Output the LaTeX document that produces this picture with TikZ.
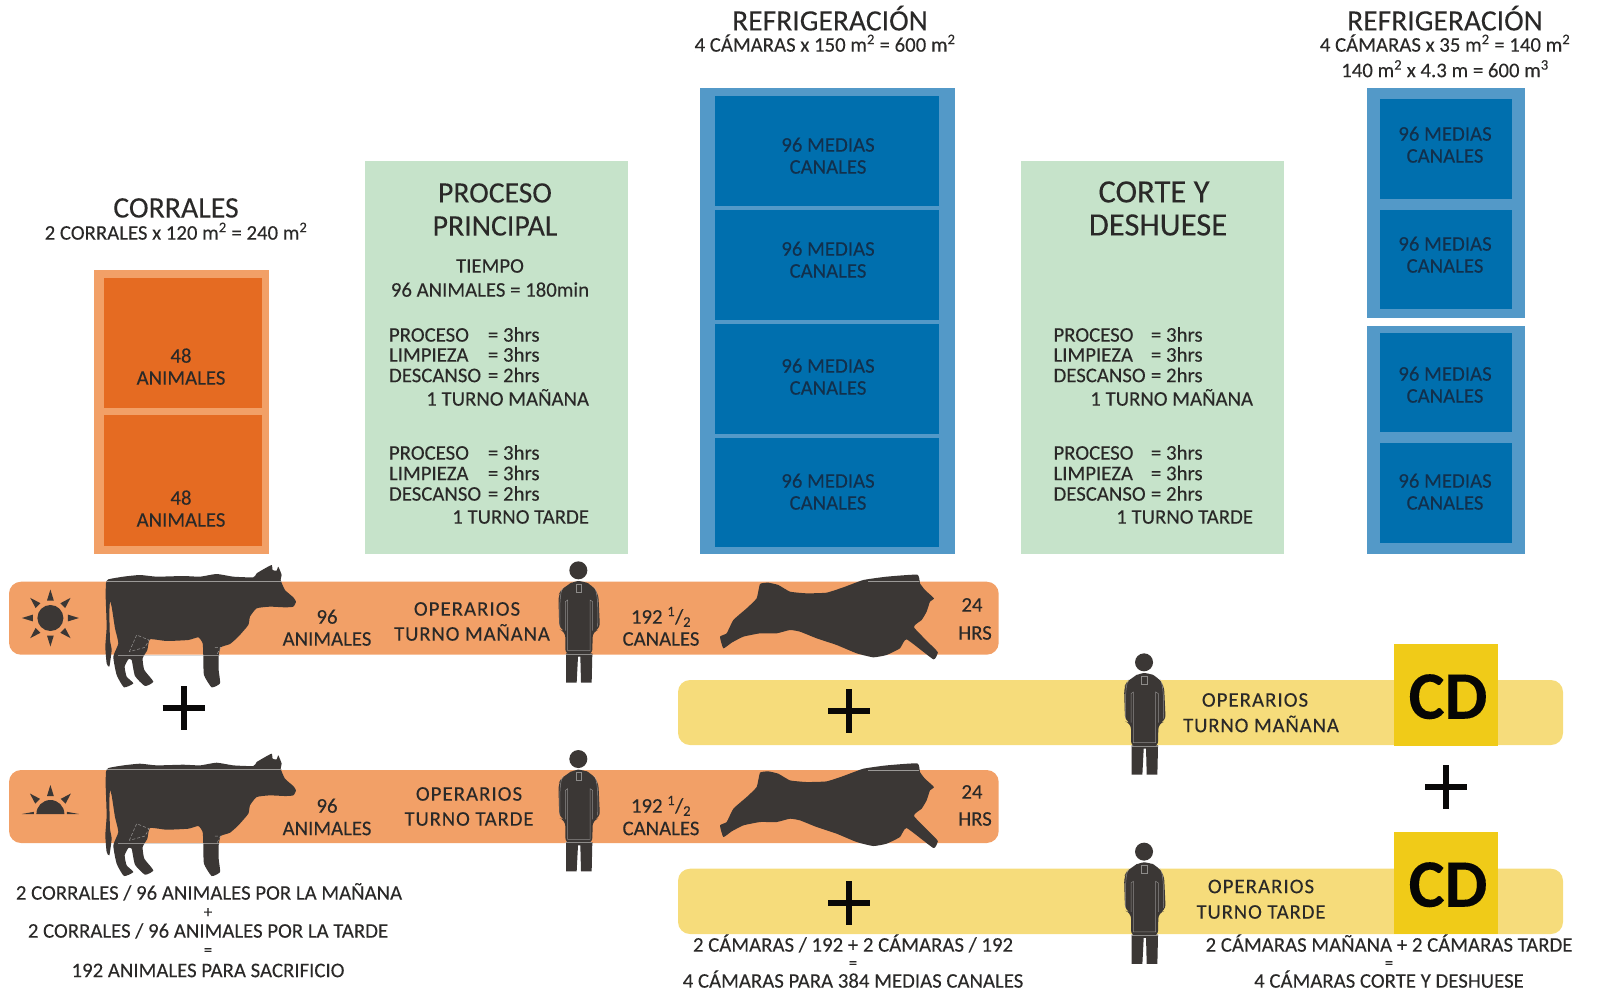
\documentclass[tikz,border=0pt]{standalone}
\usepackage{fontspec}
\setmainfont[FakeBold=0.12]{Carlito}
\definecolor{ink}{HTML}{2A2928}
\definecolor{sil}{HTML}{3B3735}
\definecolor{ornin}{HTML}{E56B22}
\definecolor{orout}{HTML}{F2A067}
\definecolor{grn}{HTML}{C6E3CA}
\definecolor{blout}{HTML}{5399C8}
\definecolor{blin}{HTML}{006FAE}
\definecolor{blink}{HTML}{12304C}
\definecolor{yel}{HTML}{F6DC7B}
\definecolor{cdy}{HTML}{F0CB18}
\newcounter{lb}
\newcommand\lab[5][]{\stepcounter{lb}\node[txt,#1,font=\fontsize{#4}{#4}\selectfont] (lb\arabic{lb}) at (#2,{#3+.32*#4}) {#5};}
\newcommand\sqm{m\textsuperscript{2}}
\newcommand\half{192 \textsuperscript{1}/\textsubscript{2}}
\tikzset{
  txt/.style={inner sep=0pt,outer sep=0pt,anchor=base,text=ink},
  plusbar/.style={line width=5.6pt,draw=black!85!sil,line cap=butt},
  sillight/.style={draw=white!70!sil,line width=.5pt},
  pics/cowfig/.style={code={
    \begin{scope}[scale=.3333]
    \fill[sil] plot[smooth cycle,tension=.3] coordinates {(55,58)(100,50)(150,45)(200,50)(280,48)(330,50)(380,42)(430,50)(490,52)(500,40)(520,28)(545,15)(548,30)(560,32)(565,20)(575,45)(572,60)(585,90)(610,112)(618,125)(610,140)(585,142)(540,140)(500,145)(480,170)(475,195)(445,230)(420,252)(392,262)(386,290)(386,330)(390,370)(365,382)(342,345)(340,290)(338,250)(325,232)(295,240)(230,243)(180,238)(172,270)(158,295)(163,330)(190,365)(165,378)(135,348)(125,300)(115,298)(104,320)(110,350)(130,370)(102,382)(80,345)(70,290)(85,250)(75,205)(65,140)(60,125)(58,160)(60,240)(65,270)(58,320)(50,310)(46,260)(50,200)(47,110)(48,70)};
    \draw[sillight,opacity=.7] (52,63)--(575,63);
    \draw[sillight,opacity=.6] (85,285)--(390,285);
    \draw[sillight,densely dashed,opacity=.7] (118,275) -- (140,225) -- (177,240) -- (165,262) -- cycle;
    \draw[sillight,densely dashed,opacity=.7] (375,262) -- (392,262) -- (380,285);
    \end{scope}}},
  pics/carcass/.style={code={
    \begin{scope}[scale=.3333]
    \fill[sil] plot[smooth cycle,tension=.25] coordinates {(150,42)(175,38)(205,45)(240,65)(290,70)(350,68)(400,52)(460,30)(530,20)(622,14)(630,40)(645,60)(672,85)(660,95)(650,125)(635,150)(612,172)(680,242)(683,250)(670,268)(590,208)(570,235)(530,255)(490,262)(440,250)(380,225)(320,205)(270,185)(240,180)(200,190)(150,190)(100,200)(65,218)(40,235)(30,200)(50,190)(70,150)(110,115)(140,85)};
    \draw[sillight,opacity=.7] (475,35)--(628,35);
    \end{scope}}},
  pics/personfig/.style={code={
    \begin{scope}[scale=.3333]
    \fill[sil] (85,31) circle (27);
    \fill[sil,rounded corners=6pt] (50,78)--(70,63)--(100,63)--(125,75)--(145,100)--(150,208)--(128,214)--(127,285)--(46,285)--(46,214)--(28,208)--(25,105)--(35,88)--cycle;
    \fill[sil] (48,280)--(127,280)--(125,368)--(93,368)--(91,290)--(84,290)--(80,368)--(48,368)--cycle;
    \draw[sillight,opacity=.6] (46,212)--(46,125)--(53,120)--(53,272)--(120,272)--(120,120)--(128,125)--(128,212);
    \draw[sillight,opacity=.6] (46,282)--(127,282);
    \draw[sillight,opacity=.6] (78,72)--(94,72)--(94,96)--(78,96)--cycle;
    \draw[sillight,opacity=.6] (38,82)..controls (30,100) and (28,130) .. (30,200);
    \draw[sillight,opacity=.6] (134,82)..controls (142,100) and (145,130) .. (143,200);
    \end{scope}}},
  pics/plusfig/.style={code={
    \draw[plusbar] (-21,0)--(21,0);
    \draw[plusbar] (0,-22)--(0,22);}},
}
\begin{document}
\begin{tikzpicture}[x=1pt,y=-1pt]
\path[use as bounding box] (0,0) rectangle (1600,990);

% top blocks
\fill[orout] (94.4,270) rectangle (269,553.5);
\fill[ornin] (103.6,278) rectangle (261.7,408);
\fill[ornin] (103.6,415) rectangle (261.7,546);
\fill[grn] (365,161) rectangle (627.5,554);
\fill[grn] (1021.4,161) rectangle (1283.7,554);
\fill[blout] (700,88) rectangle (955,554);
\fill[blin] (715.3,96.4) rectangle (939.3,206);
\fill[blin] (715.3,210) rectangle (939.3,320);
\fill[blin] (715.3,323.6) rectangle (939.3,434);
\fill[blin] (715.3,437.5) rectangle (939.3,547);
\fill[blout] (1366.8,88) rectangle (1524.5,317.5);
\fill[blout] (1366.8,325.5) rectangle (1524.5,554);
\fill[blin] (1379.6,99) rectangle (1512,198.5);
\fill[blin] (1379.6,210) rectangle (1512,309);
\fill[blin] (1379.6,333) rectangle (1512,432);
\fill[blin] (1379.6,443) rectangle (1512,543);

% bars
\fill[orout,rounded corners=12pt] (9,581.7) rectangle (998.7,654.7);
\fill[orout,rounded corners=12pt] (9,770) rectangle (998.7,843);
\fill[yel,rounded corners=12pt] (678,680) rectangle (1563,745);
\fill[yel,rounded corners=12pt] (678,868.7) rectangle (1563,934);
\fill[cdy] (1394,644) rectangle (1498,746);
\fill[cdy] (1394,832) rectangle (1498,934);

% suns
\begin{scope}[shift={(50.4,618)}]
\fill[sil] (0,0) circle (13);
\foreach \a in {0,45,...,315}
  \fill[sil,rotate=\a] (17.5,-3.4) -- (28.5,0) -- (17.5,3.4) -- cycle;
\end{scope}
\begin{scope}[shift={(50.4,814)}]
\fill[sil] (14,0) arc[start angle=0,end angle=-180,radius=14] -- cycle;
\foreach \a in {45,90,135}
  \fill[sil,rotate=\a] (18,-3.4) -- (29,0) -- (18,3.4) -- cycle;
\fill[sil] (-28.5,0) -- (-16.5,-2.2) -- (-16.5,0) -- cycle;
\fill[sil] (28.5,0) -- (16.5,-2.2) -- (16.5,0) -- cycle;
\end{scope}

% silhouettes
\pic at (90,560) {cowfig};
\pic at (90,748.7) {cowfig};
\pic at (710,570) {carcass};
\pic at (710,758.7) {carcass};
\pic at (550,560) {personfig};
\pic at (550,748.7) {personfig};
\pic at (1115.7,652) {personfig};
\pic at (1115.7,841.3) {personfig};

% plus signs
\pic at (183.7,708) {plusfig};
\pic at (849,711) {plusfig};
\pic at (849,903) {plusfig};
\pic at (1446,787) {plusfig};

% headings
\lab{830}{21}{29.6}{REFRIGERACIÓN}
\lab{825}{45}{20.8}{4 CÁMARAS x 150 \sqm{} = 600 \sqm}
\lab{1445}{21}{29.6}{REFRIGERACIÓN}
\lab{1445}{45}{20.8}{4 CÁMARAS x 35 \sqm{} = 140 \sqm}
\lab{1445}{70.5}{20.8}{140 \sqm{} x 4.3 m = 600 m\textsuperscript{3}}
\lab{176}{208}{29.8}{CORRALES}
\lab{176}{233}{20.8}{2 CORRALES x 120 \sqm{} = 240 \sqm}

% corrales
\lab{181}{356}{20.8}{48}
\lab{181}{378}{20.8}{ANIMALES}
\lab{181}{498}{20.8}{48}
\lab{181}{520}{20.8}{ANIMALES}

% proceso principal
\lab{495}{193}{29.6}{PROCESO}
\lab{495}{226}{29.8}{PRINCIPAL}
\lab{490}{266}{20.8}{TIEMPO}
\lab{490}{290}{20.8}{96 ANIMALES = 180min}
\foreach \yy/\tt in {335/PROCESO,355/LIMPIEZA,375.5/DESCANSO,453/PROCESO,473.5/LIMPIEZA,494/DESCANSO}{
  \lab[anchor=base west]{389}{\yy}{20.8}{\tt}
}
\foreach \yy/\vv in {335/3hrs,355/3hrs,375.5/2hrs,453/3hrs,473.5/3hrs,494/2hrs}{
  \lab[anchor=base west]{488}{\yy}{20.8}{= \vv}
}
\lab[anchor=base east]{589}{399}{20.8}{1 TURNO MAÑANA}
\lab[anchor=base east]{589}{517}{20.8}{1 TURNO TARDE}

% corte y deshuese
\lab{1154}{192}{32.6}{CORTE Y}
\lab{1158}{225}{32.6}{DESHUESE}
\foreach \yy/\tt in {335/PROCESO,355/LIMPIEZA,375.5/DESCANSO,453/PROCESO,473.5/LIMPIEZA,494/DESCANSO}{
  \lab[anchor=base west]{1053.5}{\yy}{20.8}{\tt}
}
\foreach \yy/\vv in {335/3hrs,355/3hrs,375.5/2hrs,453/3hrs,473.5/3hrs,494/2hrs}{
  \lab[anchor=base west]{1151}{\yy}{20.8}{= \vv}
}
\lab[anchor=base east]{1253}{399}{20.8}{1 TURNO MAÑANA}
\lab[anchor=base east]{1253}{517}{20.8}{1 TURNO TARDE}

% blue labels
\foreach \xx/\ya/\yb in {828/145/167,828/249/271,828/366/388,828/481/503,1445/134/156,1445/244/266,1445/374/396,1445/481/503}{
  \lab[text=blink]{\xx}{\ya}{20.8}{96 MEDIAS}
  \lab[text=blink]{\xx}{\yb}{20.8}{CANALES}
}

% orange bar 1
\lab{327}{617}{20.8}{96}
\lab{327}{639}{20.8}{ANIMALES}
\lab{467}{609}{20.8}{\addfontfeature{LetterSpace=5}OPERARIOS}
\lab{472}{634}{20.8}{\addfontfeature{LetterSpace=4}TURNO MAÑANA}
\lab{661}{617}{20.8}{\half}
\lab{661}{639}{20.8}{CANALES}
\lab{972}{605}{20.8}{24}
\lab{975}{633}{20.8}{HRS}

% orange bar 2
\lab{327}{806}{20.8}{96}
\lab{327}{828.5}{20.8}{ANIMALES}
\lab{469}{794}{20.8}{\addfontfeature{LetterSpace=5}OPERARIOS}
\lab{469}{819}{20.8}{\addfontfeature{LetterSpace=4}TURNO TARDE}
\lab{661}{806}{20.8}{\half}
\lab{661}{828.5}{20.8}{CANALES}
\lab{972}{792}{20.8}{24}
\lab{975}{819}{20.8}{HRS}

% yellow bars
\lab{1255}{700}{20.8}{\addfontfeature{LetterSpace=5}OPERARIOS}
\lab{1261}{725.5}{20.8}{\addfontfeature{LetterSpace=4}TURNO MAÑANA}
\lab{1261}{886.5}{20.8}{\addfontfeature{LetterSpace=5}OPERARIOS}
\lab{1261}{912}{20.8}{\addfontfeature{LetterSpace=4}TURNO TARDE}
\lab[text=black!90!sil]{1448}{697}{68}{\bfseries CD}
\lab[text=black!90!sil]{1448}{885}{68}{\bfseries CD}

% bottom texts
\lab{209}{893}{20.8}{2 CORRALES / 96 ANIMALES POR LA MAÑANA}
\lab{208}{912}{17}{+}
\lab{208}{931}{20.8}{2 CORRALES / 96 ANIMALES POR LA TARDE}
\lab{208}{950}{17}{=}
\lab{208}{970.5}{20.8}{192 ANIMALES PARA SACRIFICIO}
\lab{853}{945}{20.8}{2 CÁMARAS / 192 + 2 CÁMARAS / 192}
\lab{853}{963}{17}{=}
\lab{853}{981}{20.8}{4 CÁMARAS PARA 384 MEDIAS CANALES}
\lab{1389}{945}{20.8}{2 CÁMARAS MAÑANA + 2 CÁMARAS TARDE}
\lab{1389}{963}{17}{=}
\lab{1389}{981}{20.8}{4 CÁMARAS CORTE Y DESHUESE}
\end{tikzpicture}
\end{document}
